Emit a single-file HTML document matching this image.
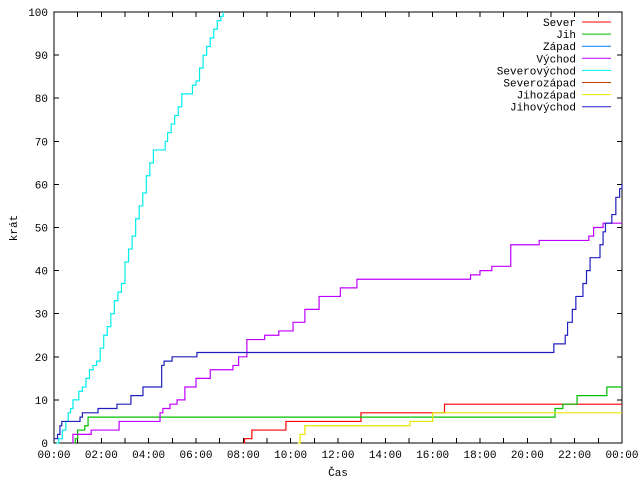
<!DOCTYPE html>
<html><head><meta charset="utf-8"><style>
body{margin:0;background:#fff}
svg{display:block;font-family:"Liberation Mono","DejaVu Sans Mono",monospace;font-size:11px}
</style></head><body>
<svg id="chart" width="640" height="480" viewBox="0 0 640 480" xmlns="http://www.w3.org/2000/svg">
<rect width="640" height="480" fill="#fff"/>
<g id="grid"></g>
<g id="series"></g>
<g id="legend"></g>
<text x="338" y="476" text-anchor="middle">Čas</text>
<text transform="translate(17,228) rotate(-90)" text-anchor="middle">krát</text>
</svg>
<script>
const xTickLabels=["00:00","02:00","04:00","06:00","08:00","10:00","12:00","14:00","16:00","18:00","20:00","22:00","00:00"];
const yTickValues=[0,10,20,30,40,50,60,70,80,90,100];
const seriesNames=["Sever","Jih","Západ","Východ","Severovýchod","Severozápad","Jihozápad","Jihovýchod"];
const seriesColors=["#ff0000","#00c000","#0080ff","#c000ff","#00eeee","#c04000","#e8e800","#2020c0"];
const severT=[8.0,8.05,8.36,9.8,12.97,16.5,24];
const severV=[0,1,3,5,7,9,9];
const jihT=[0.85,0.9,1.0,1.3,1.44,21.04,21.17,21.5,22.1,23.36,24];
const jihV=[0,1,3,4,6,6,8,9,11,13,13];
const zapadT=[];
const zapadV=[];
const vychodT=[0.76,0.8,1.57,2.75,4.48,4.6,4.9,5.2,5.53,6.0,6.6,7.56,7.8,8.15,8.9,9.5,10.1,10.6,11.2,12.1,12.8,17.6,18.0,18.5,19.3,20.5,22.6,22.8,23.2,24];
const vychodV=[0,2,3,5,7,8,9,10,13,15,17,18,20,24,25,26,28,31,34,36,38,39,40,41,46,47,48,50,51,51];
const severovychodT=[0.1,0.2,0.35,0.5,0.6,0.7,0.8,0.9,1.05,1.2,1.35,1.5,1.65,1.8,1.95,2.1,2.25,2.4,2.55,2.7,2.85,3.0,3.15,3.3,3.45,3.6,3.75,3.9,4.05,4.2,4.6,4.7,4.8,4.95,5.1,5.25,5.4,5.7,5.85,6.0,6.15,6.3,6.45,6.6,6.75,6.9,7.05,7.15];
const severovychodV=[0,1,3,5,7,8,10,10,12,13,15,17,18,19,22,25,27,30,33,35,37,42,45,48,52,55,58,62,65,68,68,70,72,74,76,78,81,81,83,84,87,90,92,94,96,98,99,100];
const severozapadT=[];
const severozapadV=[];
const jihozapadT=[10.3,10.4,10.6,15.04,16.0,24];
const jihozapadV=[0,2,4,5,7,7];
const jihovychodT=[0,0.15,0.25,0.33,1.1,1.2,1.86,2.66,3.25,3.76,4.55,4.65,4.99,6.04,21.08,21.12,21.5,21.6,21.7,21.9,22.05,22.2,22.35,22.5,22.65,22.9,23.07,23.2,23.3,23.57,23.74,23.9,24];
const jihovychodV=[1,2,4,5,6,7,8,9,11,13,18,19,20,21,21,23,23,25,28,31,34,34,37,40,43,43,46,49,51,53,57,59,60];
const seriesT=[severT,jihT,zapadT,vychodT,severovychodT,severozapadT,jihozapadT,jihovychodT];
const seriesV=[severV,jihV,zapadV,vychodV,severovychodV,severozapadV,jihozapadV,jihovychodV];

const X0=54,X1=622,Y0=443,Y1=12,YMAX=100,HMAX=24;
const xs=h=>X0+(X1-X0)*h/HMAX;
const ys=v=>Y0-(Y0-Y1)*Math.min(v,YMAX)/YMAX;
const NS="http://www.w3.org/2000/svg";
const mk=(t,a,p)=>{const e=document.createElementNS(NS,t);for(const k in a)e.setAttribute(k,a[k]);p.appendChild(e);return e;};
const grid=document.getElementById('grid');
let d=`M${X0} ${Y1}H${X1}V${Y0}H${X0}Z`;
for(let h=0;h<=HMAX;h++){const x=xs(h);d+=`M${x} ${Y0}v-5M${x} ${Y1}v5`;}
yTickValues.forEach(v=>{const y=ys(v);d+=`M${X0} ${y}h5M${X1} ${y}h-5`;});
const ax=mk('path',{d:d,fill:'none',stroke:'#000','stroke-width':1,'shape-rendering':'crispEdges'},grid);


xTickLabels.forEach((l,i)=>{const t=mk('text',{x:xs(i*2),y:Y0+15,'text-anchor':'middle'},grid);t.textContent=l;

});
yTickValues.forEach(v=>{const t=mk('text',{x:48,y:ys(v)+4,'text-anchor':'end'},grid);t.textContent=v;

});
const sg=document.getElementById('series');
seriesNames.forEach((n,i)=>{const T=seriesT[i],V=seriesV[i];if(!T.length)return;
let p=`M${xs(T[0])} ${ys(V[0])}`;
for(let k=1;k<T.length;k++){p+=`H${xs(T[k])}V${ys(V[k])}`;}
const e=mk('path',{d:p,fill:'none',stroke:seriesColors[i],'stroke-width':1.2},sg);

});
const lg=document.getElementById('legend');
seriesNames.forEach((n,i)=>{const y=22+i*12.1;
const t=mk('text',{x:576,y:y+4,'text-anchor':'end'},lg);t.textContent=n;


const l=mk('line',{x1:582,x2:611,y1:y,y2:y,stroke:seriesColors[i],'stroke-width':1},lg);

});
</script>
</body></html>
